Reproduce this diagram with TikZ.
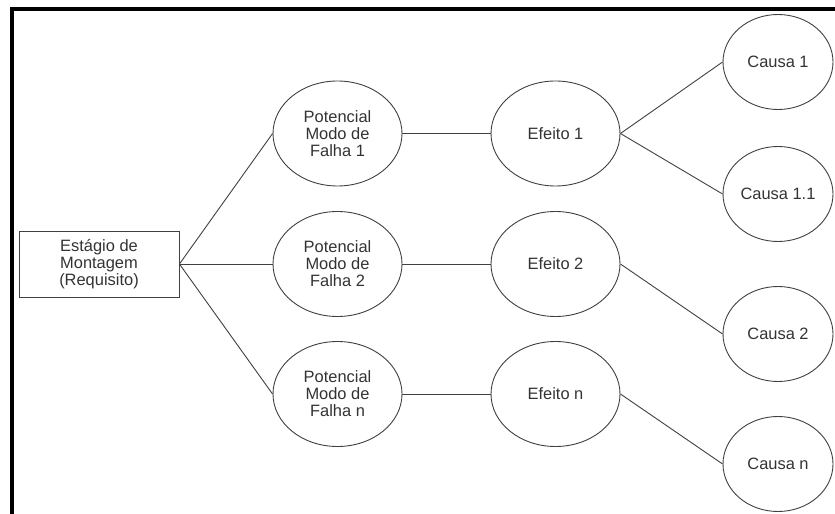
\documentclass[tikz,border=0pt]{standalone}
\usepackage{fontspec}
\setmainfont{Liberation Sans}
\usetikzlibrary{shapes.geometric}
\begin{document}
\begin{tikzpicture}[x=1bp,y=-1bp,
  every node/.style={font=\fontsize{16.5}{17}\selectfont, text=black!80, align=center},
  oval/.style={ellipse, draw=black!75, line width=0.9bp, inner sep=0pt},
  midoval/.style={oval, minimum width=129bp, minimum height=105bp},
  causeoval/.style={oval, minimum width=110bp, minimum height=95bp},
  stagebox/.style={rectangle, draw=black!75, line width=0.9bp, minimum width=160bp, minimum height=66bp, inner sep=0pt},
  link/.style={draw=black!75, line width=0.9bp},
  frame/.style={line width=4bp, black}]
\useasboundingbox (0,0) rectangle (835,514);
% frame edges
\draw[frame] (12,514) -- (12,9) -- (835,9);

% root
\node[stagebox] (stage) at (99,264) {Estágio de\\Montagem\\(Requisito)};

% failure modes
\node[midoval] (pm1) at (337.5,133.5) {Potencial\\Modo de\\Falha 1};
\node[midoval] (pm2) at (337.5,264) {Potencial\\Modo de\\Falha 2};
\node[midoval] (pmn) at (337.5,394) {Potencial\\Modo de\\Falha n};

% effects
\node[midoval] (ef1) at (555.5,133.5) {Efeito 1};
\node[midoval] (ef2) at (555.5,264) {Efeito 2};
\node[midoval] (efn) at (555.5,394) {Efeito n};

% causes
\node[causeoval] (c1)  at (778,62)  {Causa 1};
\node[causeoval] (c11) at (778,194) {Causa 1.1};
\node[causeoval] (c2)  at (778,334) {Causa 2};
\node[causeoval] (cn)  at (778,464) {Causa n};

% connectors
\draw[link] (stage.east) -- (pm1.west);
\draw[link] (stage.east) -- (pm2.west);
\draw[link] (stage.east) -- (pmn.west);
\draw[link] (pm1.east) -- (ef1.west);
\draw[link] (pm2.east) -- (ef2.west);
\draw[link] (pmn.east) -- (efn.west);
\draw[link] (ef1.east) -- (c1.west);
\draw[link] (ef1.east) -- (c11.west);
\draw[link] (ef2.east) -- (c2.west);
\draw[link] (efn.east) -- (cn.west);
\end{tikzpicture}
\end{document}
